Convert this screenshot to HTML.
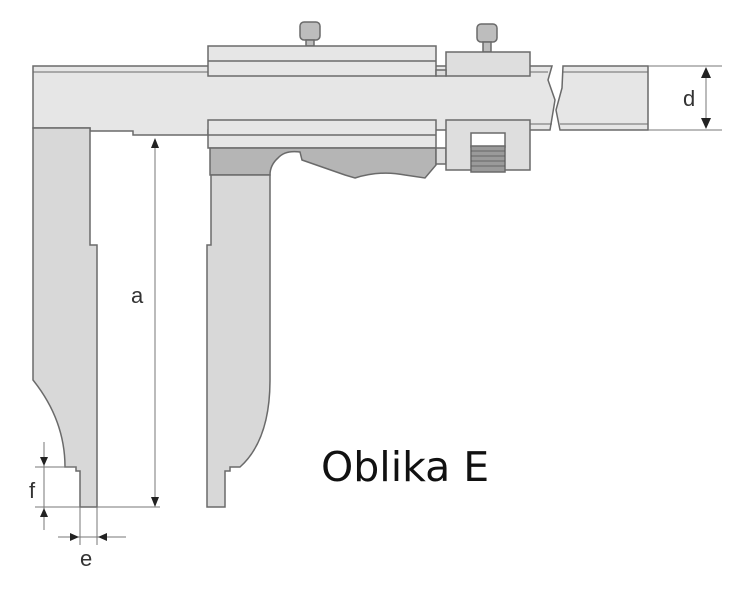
<!DOCTYPE html>
<html><head><style>body{margin:0;background:#fff}svg{display:block}</style></head><body>
<svg width="752" height="600" viewBox="0 0 752 600" xmlns="http://www.w3.org/2000/svg">
<g stroke="#6a6a6a" stroke-width="1.5" fill="#e6e6e6">
<!-- beam -->
<path d="M33 66 H552 L548 80 L555 100 L550 130 H208 V135 H133 V131 H90 V128 H33 Z"/>
<line x1="33" y1="72" x2="548" y2="72" stroke-width="1"/>
<path d="M563 66 H648 V130 H560 L556 110 L562 88 Z"/>
<line x1="562" y1="72" x2="648" y2="72" stroke-width="1"/>
<line x1="560" y1="124" x2="648" y2="124" stroke-width="1"/>
<line x1="530" y1="124" x2="552" y2="124" stroke-width="1"/>
<!-- screws -->
<rect x="300" y="22" width="20" height="18" rx="4" fill="#bdbdbd"/>
<rect x="306" y="40" width="8" height="6" fill="#bdbdbd"/>
<rect x="477" y="24" width="20" height="18" rx="4" fill="#bdbdbd"/>
<rect x="483" y="42" width="8" height="10" fill="#bdbdbd"/>
<!-- upper slider -->
<rect x="208" y="46" width="228" height="30"/>
<line x1="208" y1="61" x2="436" y2="61"/>
<rect x="446" y="52" width="84" height="24" fill="#dedede"/>
<rect x="436" y="70" width="10" height="6" fill="#ddd"/>
<!-- lower slider -->
<rect x="208" y="120" width="228" height="28"/>
<line x1="208" y1="135" x2="436" y2="135"/>
<path d="M210 148 H436 V165 L425 178 L405 175 Q380 170 355 178 L345 175 L302 160 L300 152 Q285 150 278 158 Q270 165 270 175 H210 Z" fill="#b5b5b5"/>
<rect x="436" y="148" width="10" height="16" fill="#ddd"/>
<rect x="446" y="120" width="84" height="50" fill="#dedede"/>
<rect x="471" y="133" width="34" height="14" fill="#fff"/>
<rect x="471" y="146" width="34" height="26" fill="#9a9a9a"/>
<g stroke="#555" stroke-width="0.8"><line x1="471" y1="151" x2="505" y2="151"/><line x1="471" y1="156" x2="505" y2="156"/><line x1="471" y1="161" x2="505" y2="161"/><line x1="471" y1="166" x2="505" y2="166"/></g>
<!-- moving jaw -->
<path d="M211 175 H270 V380 Q270 440 240 467 H230 V471 H225 V507 H207 V245 H211 Z" fill="#d8d8d8"/>
<!-- fixed jaw -->
<path d="M33 128 H90 V245 H97 V507 H80 V471 H76 V467 H65 Q65 420 33 380 Z" fill="#d8d8d8"/>
</g>
<!-- dimensions -->
<g stroke="#777" stroke-width="1" fill="none">
<line x1="155" y1="140" x2="155" y2="505"/>
<line x1="97" y1="507" x2="160" y2="507"/>
<line x1="648" y1="66" x2="722" y2="66"/>
<line x1="648" y1="130" x2="722" y2="130"/>
<line x1="706" y1="68" x2="706" y2="128"/>
<line x1="35" y1="467" x2="76" y2="467"/>
<line x1="35" y1="507" x2="80" y2="507"/>
<line x1="44" y1="442" x2="44" y2="530"/>
<line x1="80" y1="507" x2="80" y2="545"/>
<line x1="97" y1="507" x2="97" y2="545"/>
<line x1="58" y1="537" x2="126" y2="537"/>
</g>
<g fill="#222">
<path d="M155 138 L151 148 H159 Z"/>
<path d="M155 507 L151 497 H159 Z"/>
<path d="M706 67 L701 78 H711 Z"/>
<path d="M706 129 L701 118 H711 Z"/>
<path d="M44 466 L40 457 H48 Z"/>
<path d="M44 508 L40 517 H48 Z"/>
<path d="M79 537 L70 533 V541 Z"/>
<path d="M98 537 L107 533 V541 Z"/>
</g>
<g font-family="Liberation Sans, sans-serif" fill="#333" font-size="22">
<text x="131" y="303">a</text>
<text x="683" y="106">d</text>
<text x="29" y="498">f</text>
<text x="80" y="566">e</text>
</g>
<text x="321" y="481" font-family="DejaVu Sans, sans-serif" font-size="41" fill="#111">Oblika E</text>
</svg>
</body></html>
